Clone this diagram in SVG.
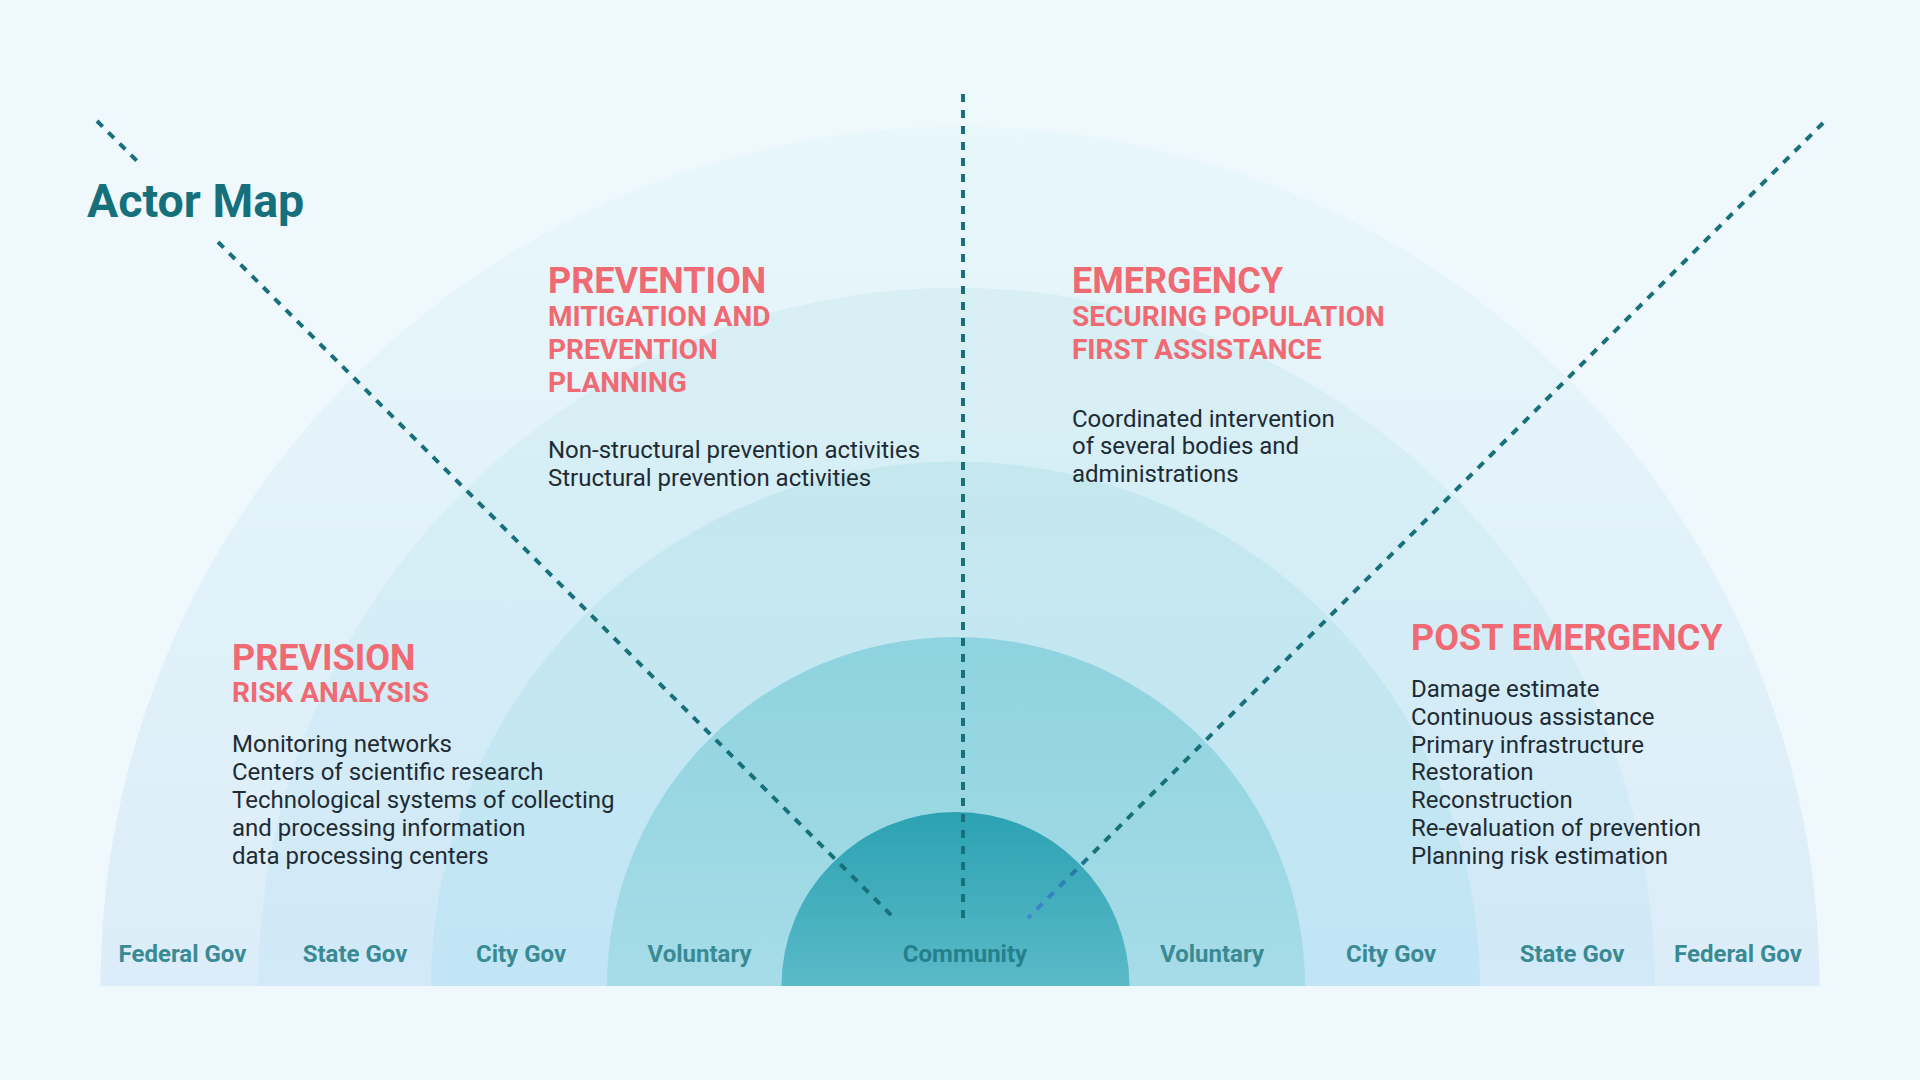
<svg xmlns="http://www.w3.org/2000/svg" width="1920" height="1080" viewBox="0 0 1920 1080">
  <style>
    .title { font-family: Roboto, "Liberation Sans", sans-serif; font-weight: 700; font-size: 46.5px; fill: #15707c; }
    .head { font-family: Roboto, "Liberation Sans", sans-serif; font-weight: 700; font-size: 36px; fill: #ef6a72; }
    .sub { font-family: Roboto, "Liberation Sans", sans-serif; font-weight: 700; font-size: 28px; fill: #ef6a72; }
    .body { font-family: Roboto, "Liberation Sans", sans-serif; font-weight: 400; font-size: 24px; fill: #1e2b34; }
    .lbl { font-family: Roboto, "Liberation Sans", sans-serif; font-weight: 700; font-size: 24px; fill: #3a8a94; text-anchor: middle; }
    .lbl-c { fill: #25808c; }
    .dash { fill: none; stroke: #17707a; stroke-width: 4; stroke-dasharray: 8 8; }
  </style>
  <defs>
    <linearGradient id="g1" x1="0" y1="0" x2="0" y2="1">
      <stop offset="0" stop-color="#e8f7fa"/>
      <stop offset="1" stop-color="#dcedf9"/>
    </linearGradient>
    <linearGradient id="g2" x1="0" y1="0" x2="0" y2="1">
      <stop offset="0" stop-color="#d8f0f4"/>
      <stop offset="1" stop-color="#d1e9f8"/>
    </linearGradient>
    <linearGradient id="g3" x1="0" y1="0" x2="0" y2="1">
      <stop offset="0" stop-color="#c5e8ef"/>
      <stop offset="1" stop-color="#c1e5f5"/>
    </linearGradient>
    <linearGradient id="g4" x1="0" y1="0" x2="0" y2="1">
      <stop offset="0" stop-color="#8ed3df"/>
      <stop offset="1" stop-color="#a6dce7"/>
    </linearGradient>
    <linearGradient id="g5" x1="0" y1="0" x2="0" y2="1">
      <stop offset="0" stop-color="#2ba2b2"/>
      <stop offset="1" stop-color="#5bbac8"/>
    </linearGradient>
    <linearGradient id="gr" gradientUnits="userSpaceOnUse" x1="1028" y1="918" x2="1823" y2="123">
      <stop offset="0" stop-color="#3d88cc"/>
      <stop offset="0.045" stop-color="#2f80b8"/>
      <stop offset="0.08" stop-color="#17707a"/>
      <stop offset="1" stop-color="#17707a"/>
    </linearGradient>
  </defs>

  <rect width="1920" height="1080" fill="#eff8fd"/>

  <g id="ring-federal">
    <path d="M100.5,986 A859.5,859.5 0 0 1 1819.5,986 Z" fill="url(#g1)"/>
  </g>
  <g id="ring-state">
    <path d="M258,986 A698.5,698.5 0 0 1 1655,986 Z" fill="url(#g2)"/>
  </g>
  <g id="ring-city">
    <path d="M431,986 A524.5,524.5 0 0 1 1480,986 Z" fill="url(#g3)"/>
  </g>
  <g id="ring-voluntary">
    <path d="M607,986 A349,349 0 0 1 1305,986 Z" fill="url(#g4)"/>
  </g>
  <g id="ring-community">
    <path d="M781.5,986 A174,174 0 0 1 1129.5,986 Z" fill="url(#g5)"/>
  </g>

  <g id="connectors">
    <line class="dash" x1="963" y1="94" x2="963" y2="920"/>
    <line class="dash" x1="97" y1="121" x2="140" y2="164"/>
    <line class="dash" x1="218" y1="242" x2="894" y2="918"/>
    <line class="dash" x1="1823" y1="123" x2="1028" y2="918" style="stroke:url(#gr)"/>
  </g>

  <g id="title">
    <text class="title" x="87" y="217">Actor Map</text>
  </g>

  <g id="prevention">
    <text class="head" x="548" y="293">PREVENTION</text>
    <text class="sub" x="548" y="326">MITIGATION AND</text>
    <text class="sub" x="548" y="359">PREVENTION</text>
    <text class="sub" x="548" y="392">PLANNING</text>
    <text class="body" x="548" y="458">Non-structural prevention activities</text>
    <text class="body" x="548" y="486">Structural prevention activities</text>
  </g>

  <g id="emergency">
    <text class="head" x="1072" y="293">EMERGENCY</text>
    <text class="sub" x="1072" y="326">SECURING POPULATION</text>
    <text class="sub" x="1072" y="359">FIRST ASSISTANCE</text>
    <text class="body" x="1072" y="426.5">Coordinated intervention</text>
    <text class="body" x="1072" y="454">of several bodies and</text>
    <text class="body" x="1072" y="481.5">administrations</text>
  </g>

  <g id="prevision">
    <text class="head" x="232" y="669.5">PREVISION</text>
    <text class="sub" x="232" y="701.5">RISK ANALYSIS</text>
    <text class="body" x="232" y="752">Monitoring networks</text>
    <text class="body" x="232" y="780">Centers of scientific research</text>
    <text class="body" x="232" y="808">Technological systems of collecting</text>
    <text class="body" x="232" y="836">and processing information</text>
    <text class="body" x="232" y="864">data processing centers</text>
  </g>

  <g id="post-emergency">
    <text class="head" x="1411" y="649.5">POST EMERGENCY</text>
    <text class="body" x="1411" y="696.5">Damage estimate</text>
    <text class="body" x="1411" y="724.5">Continuous assistance</text>
    <text class="body" x="1411" y="752.5">Primary infrastructure</text>
    <text class="body" x="1411" y="780">Restoration</text>
    <text class="body" x="1411" y="808">Reconstruction</text>
    <text class="body" x="1411" y="836">Re-evaluation of prevention</text>
    <text class="body" x="1411" y="864">Planning risk estimation</text>
  </g>

  <g id="labels">
    <text class="lbl" x="182.5" y="962">Federal Gov</text>
    <text class="lbl" x="355" y="962">State Gov</text>
    <text class="lbl" x="521" y="962">City Gov</text>
    <text class="lbl" x="699.5" y="962">Voluntary</text>
    <text class="lbl lbl-c" x="965" y="962">Community</text>
    <text class="lbl" x="1212" y="962">Voluntary</text>
    <text class="lbl" x="1391" y="962">City Gov</text>
    <text class="lbl" x="1572" y="962">State Gov</text>
    <text class="lbl" x="1738" y="962">Federal Gov</text>
  </g>
</svg>
